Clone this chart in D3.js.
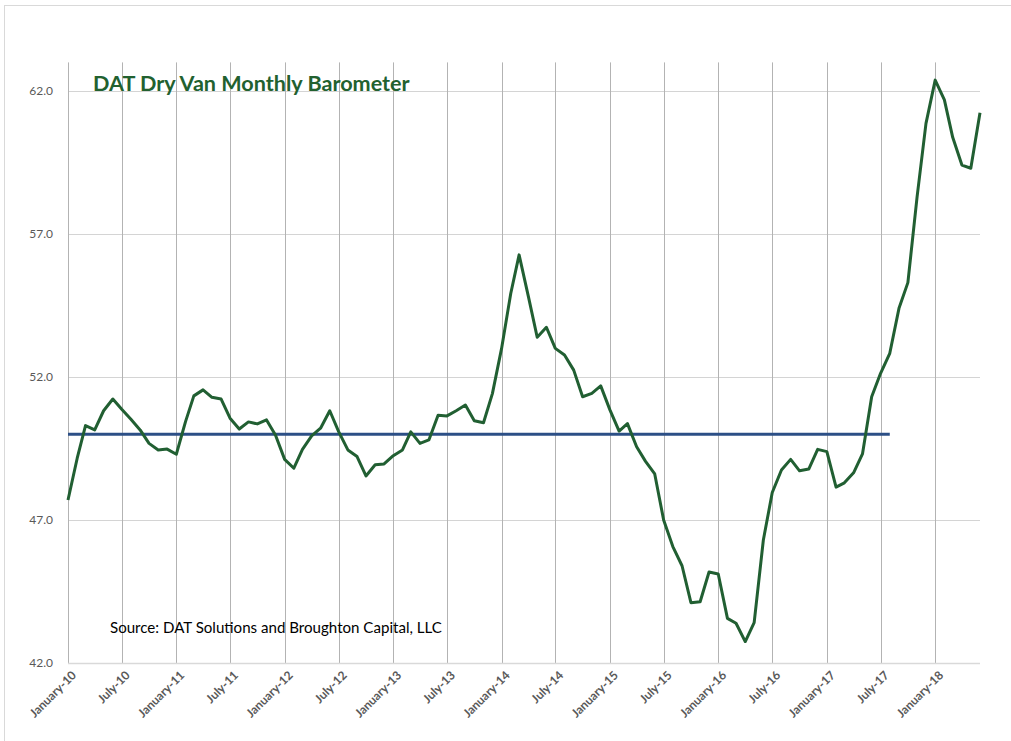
<!DOCTYPE html>
<html>
<head>
<meta charset="utf-8">
<script src="https://cdn.jsdelivr.net/npm/d3@7"></script>
<style>
  body { margin: 0; background: #fff; }
  svg { display: block; }
</style>
</head>
<body>
<svg id="chart" width="1011" height="741"></svg>
<script>
// monthly barometer, Jan 2010 .. Jun 2018
var startMonth = new Date(2010, 0, 1);
var barometer = [
  47.7, 49.16, 50.3, 50.15, 50.82, 51.23, 50.87, 50.52, 50.15, 49.68, 49.45, 49.48,
  49.3, 50.44, 51.34, 51.55, 51.29, 51.23, 50.56, 50.18, 50.43, 50.36, 50.5, 49.97,
  49.12, 48.81, 49.47, 49.94, 50.21, 50.82, 50.09, 49.45, 49.22, 48.54, 48.93, 48.96,
  49.25, 49.45, 50.08, 49.68, 49.8, 50.66, 50.64, 50.82, 51.02, 50.47, 50.4, 51.42,
  53.0, 54.93, 56.27, 54.83, 53.39, 53.74, 53.0, 52.77, 52.24, 51.31, 51.43, 51.69,
  50.85, 50.11, 50.37, 49.56, 49.05, 48.61, 47.0, 46.07, 45.4, 44.11, 44.14, 45.18,
  45.11, 43.56, 43.39, 42.75, 43.41, 46.3, 47.96, 48.75, 49.12, 48.72, 48.78, 49.47,
  49.39, 48.15, 48.3, 48.65, 49.31, 51.31, 52.13, 52.83, 54.4, 55.3, 58.3, 60.87,
  62.38, 61.69, 60.38, 59.41, 59.3, 61.24
];
// reference line at 50, Jan 2010 .. Aug 2017
var refValue = 50;
var refMonths = 92;

var yTicks = [42, 47, 52, 57, 62];
var xTickLabels = ['January-10', 'July-10', 'January-11', 'July-11', 'January-12', 'July-12',
  'January-13', 'July-13', 'January-14', 'July-14', 'January-15', 'July-15',
  'January-16', 'July-16', 'January-17', 'July-17', 'January-18'];

var months = barometer.map((d, i) => d3.timeMonth.offset(startMonth, i));
var data = barometer.map((v, i) => ({date: months[i], value: v}));
var refData = months.slice(0, refMonths).map(d => ({date: d, value: refValue}));
var tickDates = xTickLabels.map((t, i) => d3.timeMonth.offset(startMonth, i * 6));

var font = 'Lato, "Open Sans", sans-serif';
var svg = d3.select('#chart');
var margin = {left: 68, right: 31, top: 62.4, bottom: 78};
var W = 1011, H = 741;

var x = d3.scaleTime()
  .domain([months[0], months[months.length - 1]])
  .range([margin.left, W - margin.right]);
var y = d3.scaleLinear()
  .domain([42, 63])
  .range([H - margin.bottom, margin.top]);

// outer chart border
svg.append('rect').attr('x', 4.5).attr('y', 5.5).attr('width', 1030).attr('height', 760)
  .attr('fill', 'none').attr('stroke', '#d9d9d9').attr('stroke-width', 1);

// horizontal gridlines
svg.append('g').selectAll('line').data(yTicks.slice(1)).enter().append('line')
  .attr('x1', x.range()[0]).attr('x2', x.range()[1])
  .attr('y1', d => Math.round(y(d)) + 0.5).attr('y2', d => Math.round(y(d)) + 0.5)
  .attr('stroke', '#d4d4d4').attr('stroke-width', 1);

// vertical gridlines
svg.append('g').selectAll('line').data(tickDates).enter().append('line')
  .attr('x1', d => Math.round(x(d)) + 0.5).attr('x2', d => Math.round(x(d)) + 0.5)
  .attr('y1', y(63)).attr('y2', y(42))
  .attr('stroke', '#b3b3b3').attr('stroke-width', 1);

// x axis baseline
svg.append('line')
  .attr('x1', x.range()[0]).attr('x2', x.range()[1])
  .attr('y1', Math.round(y(42)) + 0.5).attr('y2', Math.round(y(42)) + 0.5)
  .attr('stroke', '#d9d9d9').attr('stroke-width', 1.5);

// y axis labels
var yAxis = d3.axisLeft(y).tickValues(yTicks).tickFormat(d3.format('.1f')).tickSize(0).tickPadding(15);
var gy = svg.append('g').attr('transform', 'translate(' + margin.left + ',0)');
gy.call(yAxis);
gy.select('.domain').remove();
gy.selectAll('.tick text')
  .attr('font-family', font).attr('font-size', 12).attr('fill', '#595959');

// x axis labels, rotated -45 like the spreadsheet
var xLab = svg.append('g').selectAll('g').data(tickDates).enter().append('g')
  .attr('transform', d => 'translate(' + (x(d) + 6) + ',' + (y(42) + 10) + ') rotate(-45)');
xLab.append('text')
  .text((d, i) => xTickLabels[i])
  .attr('text-anchor', 'end').attr('dy', '0.35em')
  .attr('font-family', font).attr('font-size', 12)
  .attr('font-weight', 'bold').attr('fill', '#595959');

var line = d3.line().x(d => x(d.date)).y(d => y(d.value));

svg.append('path').datum(refData).attr('d', line)
  .attr('fill', 'none').attr('stroke', '#2c4f86').attr('stroke-width', 3);

svg.append('path').datum(data).attr('d', line)
  .attr('fill', 'none').attr('stroke', '#215f32').attr('stroke-width', 3)
  .attr('stroke-linejoin', 'round');

// title and source
svg.append('text').attr('x', 93).attr('y', 91)
  .text('DAT Dry Van Monthly Barometer')
  .attr('font-family', font).attr('font-size', 21.6)
  .attr('font-weight', 'bold').attr('fill', '#22612f');

svg.append('text').attr('x', 110).attr('y', 633)
  .text('Source: DAT Solutions and Broughton Capital, LLC')
  .attr('font-family', font).attr('font-size', 15.1)
  .attr('fill', '#000');
</script>
</body>
</html>
